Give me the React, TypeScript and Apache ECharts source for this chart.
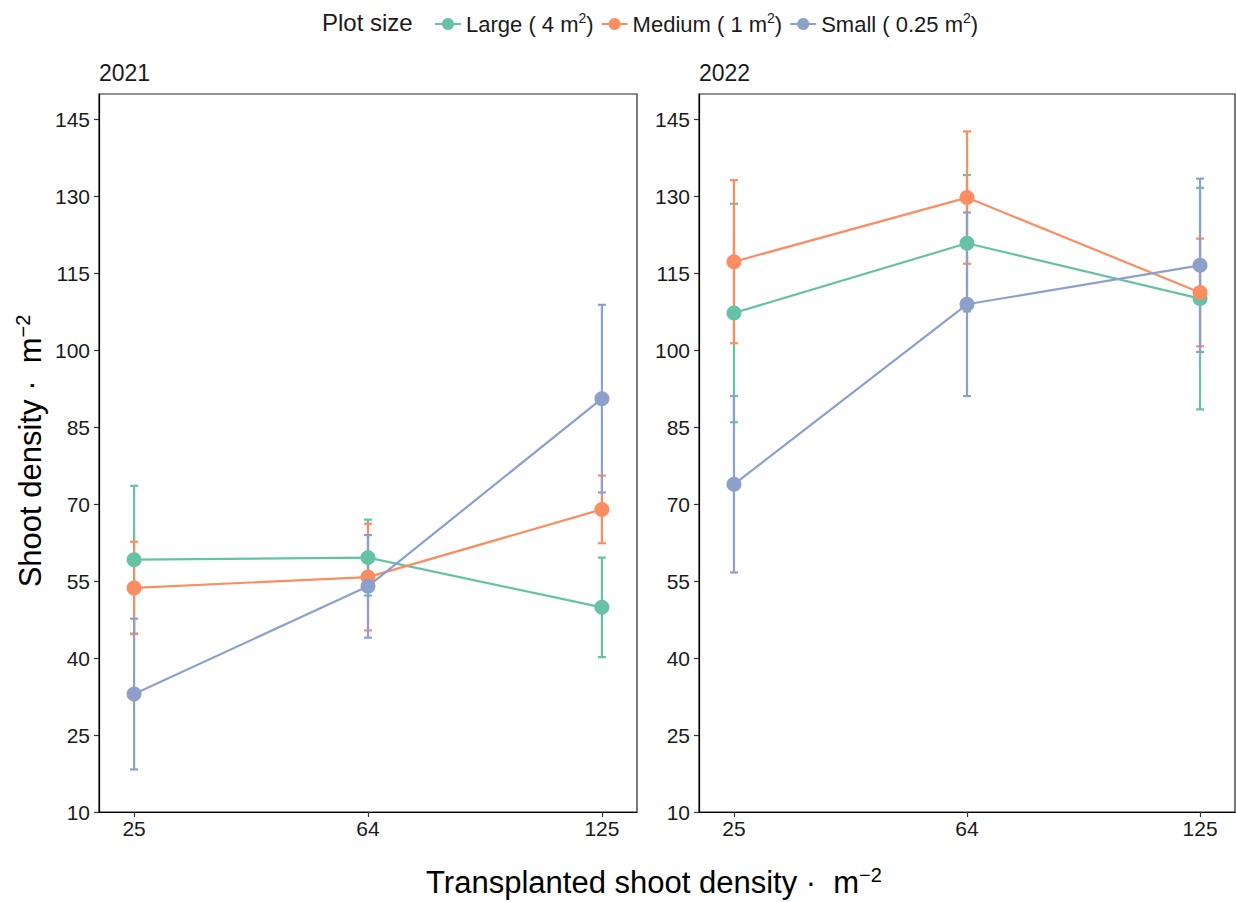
import React, { useEffect, useRef } from "react";
import * as echarts from "echarts";

// ---------- data ----------
const categories = ["25", "64", "125"];
const yTicks = [10, 25, 40, 55, 70, 85, 100, 115, 130, 145];
const groupNames = ["Large ( 4 m2)", "Medium ( 1 m2)", "Small ( 0.25 m2)"];
const groupPrefix = ["Large ( 4 m", "Medium ( 1 m", "Small ( 0.25 m"];
const groupColors = ["#66C2A5", "#FC8D62", "#8DA0CB"];
const panelTitles = ["2021", "2022"];

const mean2021Large = [59.2, 59.6, 49.9];
const se2021Large = [14.4, 7.4, 9.7];
const mean2021Medium = [53.7, 55.8, 69.0];
const se2021Medium = [9.0, 10.4, 6.6];
const mean2021Small = [33.0, 54.0, 90.6];
const se2021Small = [14.7, 10.0, 18.3];

const mean2022Large = [107.3, 120.9, 110.1];
const se2022Large = [21.3, 13.3, 21.6];
const mean2022Medium = [117.3, 129.8, 111.3];
const se2022Medium = [15.9, 12.9, 10.5];
const mean2022Small = [73.9, 109.0, 116.6];
const se2022Small = [17.2, 17.9, 16.9];

const panelMeans = [
  [mean2021Large, mean2021Medium, mean2021Small],
  [mean2022Large, mean2022Medium, mean2022Small],
];
const panelSE = [
  [se2021Large, se2021Medium, se2021Small],
  [se2022Large, se2022Medium, se2022Small],
];

const FONT = "'Liberation Sans', Arial, Helvetica, sans-serif";
const INK = "#1a1a1a";

export default function App() {
  const ref = useRef<HTMLDivElement>(null);

  useEffect(() => {
    if (!ref.current) return;
    const chart = echarts.init(ref.current, undefined, { renderer: "svg" });

    const grids = [
      { left: 99, top: 94, width: 538, height: 718 },
      { left: 699, top: 94, width: 536, height: 718 },
    ];

    const xAxes = grids.map((_, i) => ({
      type: "value",
      gridIndex: i,
      min: -0.15,
      max: 2.15,
      splitLine: { show: false },
      axisLine: { show: true, onZero: false, lineStyle: { color: "#000", width: 1.2 } },
      axisTick: { show: true, length: 5, customValues: [0, 1, 2], lineStyle: { color: "#333", width: 1.2 } },
      axisLabel: {
        customValues: [0, 1, 2],
        formatter: (v: number) => categories[Math.round(v)] ?? "",
        fontSize: 21,
        color: INK,
        fontFamily: FONT,
        margin: 6,
      },
    }));

    const yAxes = grids.map((_, i) => ({
      type: "value",
      gridIndex: i,
      min: 10,
      max: 150,
      splitLine: { show: false },
      axisLine: { show: true, onZero: false, lineStyle: { color: "#000", width: 1.2 } },
      axisTick: { show: true, length: 5, customValues: yTicks, lineStyle: { color: "#333", width: 1.2 } },
      axisLabel: {
        customValues: yTicks,
        fontSize: 21,
        color: INK,
        fontFamily: FONT,
        margin: 9,
      },
    }));

    const series: any[] = [];
    for (let p = 0; p < 2; p++) {
      for (let g = 0; g < 3; g++) {
        const means = panelMeans[p][g];
        const se = panelSE[p][g];
        const color = groupColors[g];
        series.push({
          type: "custom",
          name: "errbar-" + p + "-" + g,
          xAxisIndex: p,
          yAxisIndex: p,
          silent: true,
          z: 2,
          data: means.map((m, i) => [i, m - se[i], m + se[i]]),
          encode: { x: 0, y: [1, 2] },
          renderItem: (params: any, api: any) => {
            const x = api.value(0);
            const lo = api.coord([x, api.value(1)]);
            const hi = api.coord([x, api.value(2)]);
            const w = 4;
            const style = { stroke: color, lineWidth: 2.2 };
            return {
              type: "group",
              children: [
                { type: "line", shape: { x1: lo[0], y1: lo[1], x2: hi[0], y2: hi[1] }, style },
                { type: "line", shape: { x1: lo[0] - w, y1: lo[1], x2: lo[0] + w, y2: lo[1] }, style },
                { type: "line", shape: { x1: hi[0] - w, y1: hi[1], x2: hi[0] + w, y2: hi[1] }, style },
              ],
            };
          },
        });
      }
      for (let g = 0; g < 3; g++) {
        const means = panelMeans[p][g];
        series.push({
          type: "line",
          name: groupNames[g],
          xAxisIndex: p,
          yAxisIndex: p,
          z: 3,
          data: means.map((m, i) => [i, m]),
          symbol: "circle",
          symbolSize: 15,
          showSymbol: true,
          lineStyle: { color: groupColors[g], width: 2.2 },
          itemStyle: { color: groupColors[g] },
          emphasis: { disabled: true },
        });
      }
    }

    const supRich = (size: number, supSize: number) => ({
      a: { fontSize: size, fontFamily: FONT, color: INK, lineHeight: size + 4 },
      s: { fontSize: supSize, fontFamily: FONT, color: INK, verticalAlign: "top", lineHeight: supSize },
    });

    chart.setOption({
      animation: false,
      textStyle: { fontFamily: FONT },
      grid: grids.map((g) => ({
        ...g,
        show: true,
        borderColor: "#222",
        borderWidth: 1.2,
        backgroundColor: "transparent",
        containLabel: false,
      })),
      xAxis: xAxes,
      yAxis: yAxes,
      legend: {
        data: groupNames,
        left: 429,
        top: 6,
        itemWidth: 26,
        itemHeight: 15,
        itemGap: 7,
        selectedMode: false,
        formatter: (name: string) => {
          const i = groupNames.indexOf(name);
          return `{a|${groupPrefix[i]}}{s|2}{a|)}`;
        },
        textStyle: { rich: supRich(22, 14) },
      },
      graphic: [
        {
          type: "text",
          x: 322,
          y: 22,
          style: { text: "Plot size", font: `24px ${FONT}`, fill: INK, align: "left", verticalAlign: "middle" },
        },
        ...panelTitles.map((t, i) => ({
          type: "text",
          x: grids[i].left,
          y: 73,
          style: { text: t, font: `23px ${FONT}`, fill: INK, align: "left", verticalAlign: "middle" },
        })),
        {
          type: "text",
          x: 654,
          y: 882,
          style: {
            text: "{a|Transplanted shoot density ·  m}{s|−2}",
            rich: supRich(31, 20),
            align: "center",
            verticalAlign: "middle",
          },
        },
        {
          type: "text",
          x: 30,
          y: 451,
          rotation: Math.PI / 2,
          style: {
            text: "{a|Shoot density ·  m}{s|−2}",
            rich: supRich(31, 20),
            align: "center",
            verticalAlign: "middle",
          },
        },
      ],
      series,
    });

    return () => chart.dispose();
  }, []);

  return (
    <div
      ref={ref}
      style={{ position: "absolute", left: 0, top: 0, width: 1236, height: 902, background: "#fff" }}
    />
  );
}
